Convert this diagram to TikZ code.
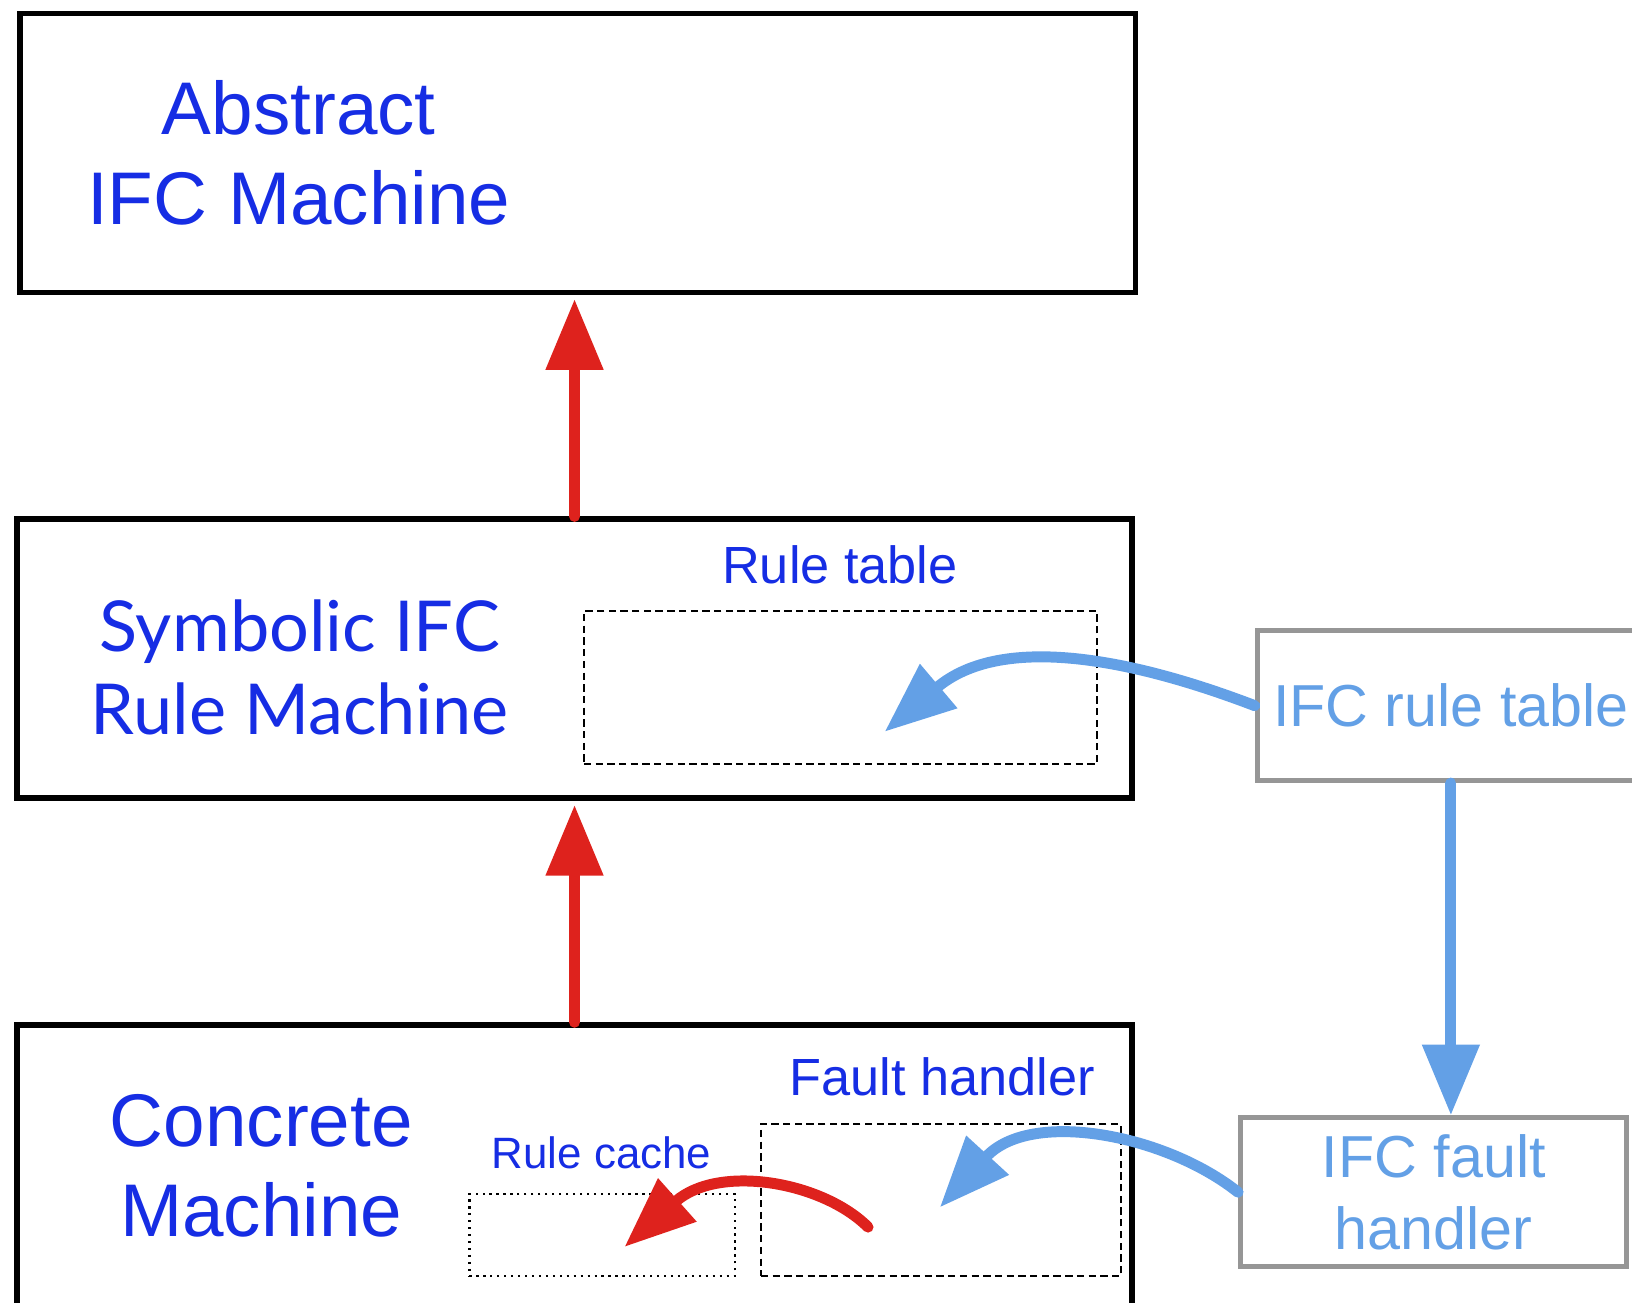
\documentclass[tikz,border=0pt]{standalone}
\usepackage{fontspec}
\setmainfont{Liberation Sans}
\newfontfamily\gillfont{Lato}
\usetikzlibrary{arrows.meta}

\definecolor{labelblue}{RGB}{22,45,228}
\definecolor{flowblue}{RGB}{99,160,230}
\definecolor{flowred}{RGB}{222,34,29}
\definecolor{boxgray}{RGB}{150,150,150}

\tikzset{
  machine/.style = {shape=rectangle, draw, line width=1.6pt,
                    minimum width=107.2mm, minimum height=26.8mm},
  ext/.style     = {shape=rectangle, draw=boxgray, line width=1.4pt,
                    minimum height=14.4mm, inner sep=0pt},
  part/.style    = {shape=rectangle, draw, line width=0.6pt,
                    dash pattern=on 2pt off 1.2pt},
  cache/.style   = {part, dash pattern=on 0.6pt off 1.3pt},
  title/.style   = {text=labelblue, align=center,
                    font=\fontsize{20.4}{24.5}\selectfont},
  partlbl/.style = {text=labelblue, font=\fontsize{14.3}{17}\selectfont},
  extlbl/.style  = {text=flowblue, align=center,
                    font=\fontsize{16.2}{19.9}\selectfont},
  lift/.style    = {draw=flowred, line width=3pt, line cap=round,
                    -{Triangle[length=6.8mm, width=5.3mm]}},
  feed/.style    = {lift, draw=flowblue}
}

\begin{document}
\begin{tikzpicture}[x=0.1mm, y=-0.1mm]
\useasboundingbox (0,0) rectangle (1568,1251);

% the three machines
\node[machine] (abstract) at (555,147) {};
\node[machine] (symbolic) at (552,633) {};
\node[machine, minimum height=27.5mm] (concrete) at (552,1122.5) {};

\node[title] (abstractlbl) at (287,147) {Abstract\\IFC Machine};
\node[title, font=\gillfont\fontsize{19.2}{22.8}\selectfont]
  (symboliclbl) at (288,641) {Symbolic IFC\\Rule Machine};
\node[title] (concretelbl) at (251,1120) {Concrete\\Machine};

% parts inside
\node[part, minimum width=49.3mm, minimum height=14.7mm] (ruletable) at (807.5,660.5) {};
\node[partlbl] (ruletablelbl) at (807,543) {Rule table};
\node[part, minimum width=34.6mm, minimum height=14.6mm] (faulthandler) at (904,1153) {};
\node[partlbl] (faulthandlerlbl) at (905,1035) {Fault handler};
\node[cache, minimum width=25.5mm, minimum height=7.9mm] (rulecache) at (578.5,1186.5) {};
\node[partlbl, font=\fontsize{12}{14}\selectfont] (rulecachelbl) at (578,1108) {Rule cache};

% outside
\node[ext, extlbl, minimum width=37.2mm] (ifcrules) at (1394,678) {IFC rule table};
\node[ext, extlbl, minimum width=37.1mm, minimum height=14.3mm]
  (ifcfault) at (1377.5,1145.5) {IFC fault\\handler};

\coordinate (ruletip) at (850,703);
\coordinate (faulttip) at (903,1160);
\coordinate (handlerout) at (834,1179);
\coordinate (cachetip) at (600,1198);

% arrows
\draw[lift, shorten >=1pt] (symbolic.north) -- (symbolic.north |- abstract.south);
\draw[lift, shorten >=1pt] (concrete.north) -- (concrete.north |- symbolic.south);
\draw[feed] (ifcrules.south) -- (ifcrules.south |- ifcfault.north);

\draw[feed] (ifcrules.west) .. controls (1080,630) and (960,610) .. (ruletip);
\draw[feed] (ifcfault.west) .. controls (1120,1090) and (990,1065) .. (faulttip);
\draw[lift] (handlerout) .. controls (790,1135) and (690,1118) .. (cachetip);

\end{tikzpicture}
\end{document}
